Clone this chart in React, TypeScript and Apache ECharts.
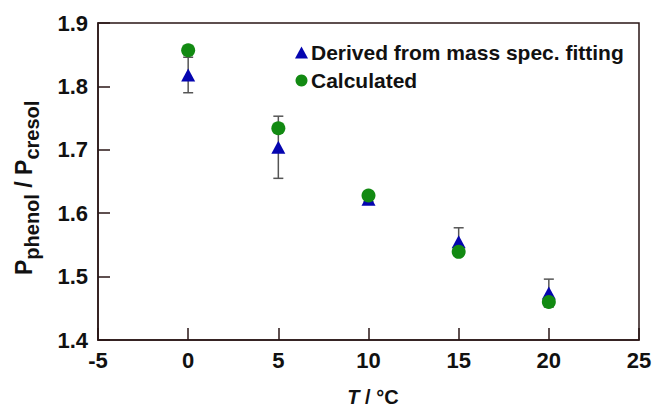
import React, { useEffect, useRef } from "react";
import * as echarts from "echarts";

const temperatures = [0, 5, 10, 15, 20];
const derivedValues = [1.818, 1.704, 1.622, 1.555, 1.474];
const derivedErrors = [0.028, 0.049, 0.004, 0.022, 0.022];
const calculatedValues = [1.857, 1.734, 1.628, 1.539, 1.46];
const xTicks = [-5, 0, 5, 10, 15, 20, 25];
const yTicks = [1.4, 1.5, 1.6, 1.7, 1.8, 1.9];

const FONT = "'Liberation Sans', Arial, sans-serif";
const BLUE = "#0505b0";
const GREEN = "#128a12";
const AXIS = "#2a1616";

export default function App() {
  const ref = useRef<HTMLDivElement>(null);
  useEffect(() => {
    if (!ref.current) return;
    const chart = echarts.init(ref.current, null, { renderer: "svg" });
    const errData = temperatures.map((t, i) => [t, derivedValues[i] - derivedErrors[i], derivedValues[i] + derivedErrors[i]]);
    chart.setOption({
      animation: false,
      backgroundColor: "#fff",
      grid: {
        left: 98,
        top: 23,
        right: 16,
        bottom: 71,
        show: true,
        borderColor: AXIS,
        borderWidth: 1.5,
      },
      legend: {
        orient: "vertical",
        left: 290,
        top: 37,
        itemWidth: 13,
        itemHeight: 12,
        itemGap: 7,
        data: [
          { name: "Derived from mass spec. fitting", icon: "triangle" },
          { name: "Calculated", icon: "circle" },
        ],
        textStyle: { fontFamily: FONT, fontWeight: "bold", fontSize: 21, color: "#111", padding: [0, 0, 0, -2] },
      },
      xAxis: {
        type: "value",
        min: xTicks[0],
        max: xTicks[xTicks.length - 1],
        interval: 5,
        axisLine: { show: true, onZero: false, lineStyle: { color: AXIS, width: 1.5 } },
        axisTick: { show: true, inside: true, length: 12, lineStyle: { color: AXIS, width: 1.5 } },
        splitLine: { show: false },
        axisLabel: {
          margin: 9,
          fontFamily: FONT,
          fontWeight: "bold",
          fontSize: 22,
          color: "#111",
          showMinLabel: true,
          showMaxLabel: true,
        },
      },
      yAxis: {
        type: "value",
        min: yTicks[0],
        max: yTicks[yTicks.length - 1],
        interval: 0.1,
        axisLine: { show: true, onZero: false, lineStyle: { color: AXIS, width: 1.5 } },
        axisTick: { show: true, inside: true, length: 12, lineStyle: { color: AXIS, width: 1.5 } },
        splitLine: { show: false },
        axisLabel: {
          margin: 10,
          fontFamily: FONT,
          fontWeight: "bold",
          fontSize: 22,
          color: "#111",
          formatter: (v: number) => v.toFixed(1),
        },
      },
      graphic: [
        {
          type: "text",
          x: 12,
          y: 275,
          rotation: Math.PI / 2,
          style: {
            text: "{p|P}{s|phenol}{p| / P}{s|cresol}",
            fill: "#111",
            rich: {
              p: { fontFamily: FONT, fontWeight: "bold", fontSize: 23, lineHeight: 25, verticalAlign: "top", fill: "#111" },
              s: { fontFamily: FONT, fontWeight: "bold", fontSize: 20, lineHeight: 21, padding: [10, 0, 0, 0], verticalAlign: "top", fill: "#111" },
            },
          },
        },
        {
          type: "text",
          x: 373,
          y: 397,
          style: {
            text: "{i|T}{n| / °C}",
            align: "center",
            verticalAlign: "middle",
            fill: "#111",
            rich: {
              i: { fontFamily: FONT, fontWeight: "bold", fontStyle: "italic", fontSize: 20, fill: "#111" },
              n: { fontFamily: FONT, fontWeight: "bold", fontSize: 20, fill: "#111" },
            },
          },
        },
      ],
      series: [
        {
          name: "errors",
          type: "custom",
          z: 1,
          data: errData,
          renderItem: (params: any, api: any) => {
            const x = api.value(0);
            const lo = api.coord([x, api.value(1)]);
            const hi = api.coord([x, api.value(2)]);
            const cap = 5;
            const style = { stroke: "#555", lineWidth: 1.5 };
            return {
              type: "group",
              children: [
                { type: "line", shape: { x1: lo[0], y1: lo[1], x2: hi[0], y2: hi[1] }, style },
                { type: "line", shape: { x1: lo[0] - cap, y1: lo[1], x2: lo[0] + cap, y2: lo[1] }, style },
                { type: "line", shape: { x1: hi[0] - cap, y1: hi[1], x2: hi[0] + cap, y2: hi[1] }, style },
              ],
            };
          },
        },
        {
          name: "Derived from mass spec. fitting",
          type: "scatter",
          z: 2,
          symbol: "triangle",
          symbolSize: [14, 13],
          itemStyle: { color: BLUE, opacity: 1 },
          data: temperatures.map((t, i) => [t, derivedValues[i]]),
        },
        {
          name: "Calculated",
          type: "scatter",
          z: 3,
          symbol: "circle",
          symbolSize: 14,
          itemStyle: { color: GREEN, opacity: 1 },
          data: temperatures.map((t, i) => [t, calculatedValues[i]]),
        },
      ],
    });
    return () => chart.dispose();
  }, []);
  return <div ref={ref} style={{ width: 655, height: 411, position: "absolute", left: 0, top: 0 }} />;
}
